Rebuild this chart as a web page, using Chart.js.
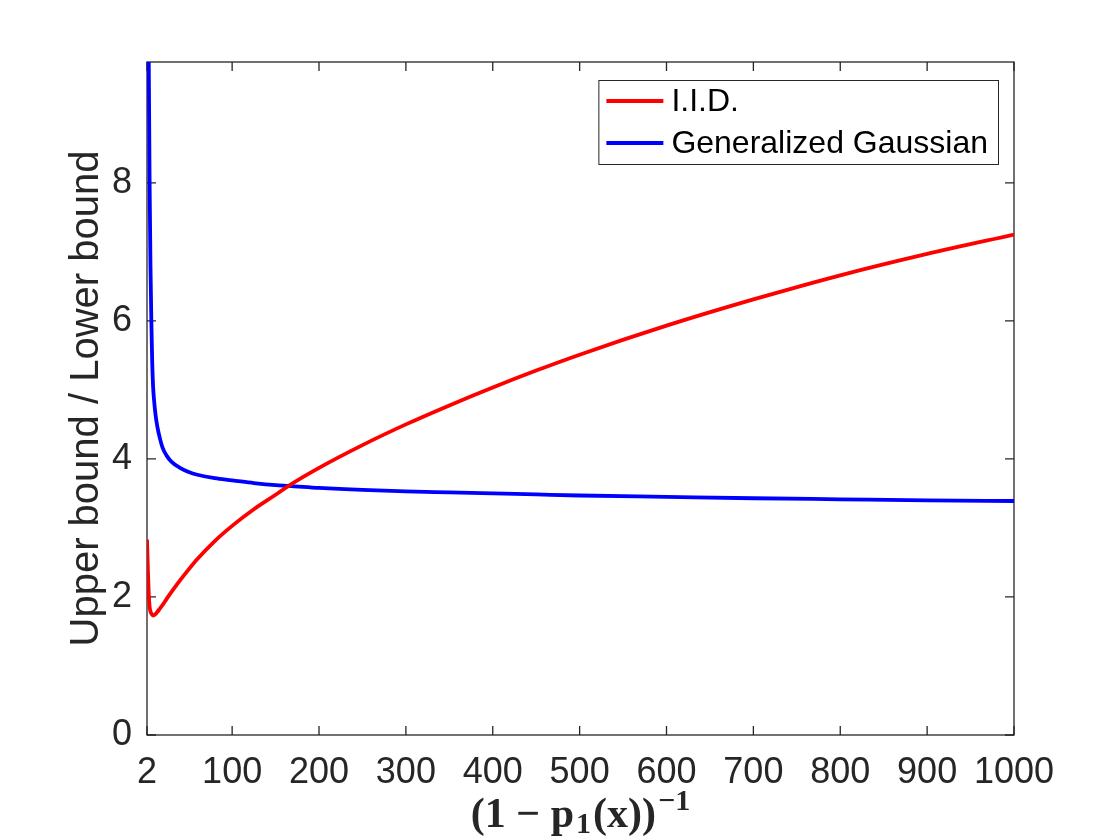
<!DOCTYPE html>
<html>
<head>
<meta charset="utf-8">
<script src="https://cdn.jsdelivr.net/npm/chart.js@4.4.1/dist/chart.umd.min.js"></script>
<style>
    html, body { margin: 0; padding: 0; background: #fff; }
    #wrap { width: 1120px; height: 840px; }
</style>
</head>
<body>
<div id="wrap"><canvas id="boundChart" width="1120" height="840"></canvas></div>
<script>
// x positions shared by both curves
const xValues = [2, 3, 4, 5, 6, 7, 8, 9, 10, 12, 14, 17, 20, 25, 30, 40, 50, 60, 80, 100,
    125, 150, 165, 200, 250, 300, 350, 400, 450, 500, 600, 700, 800, 900, 1000];

// ratio for the I.I.D. case
const iidValues = [2.83, 2.40, 2.05, 1.86, 1.79, 1.76, 1.74, 1.73, 1.735, 1.755, 1.785, 1.835, 1.885, 1.98, 2.07, 2.24, 2.40, 2.55, 2.81, 3.03,
    3.27, 3.48, 3.61, 3.87, 4.20, 4.50, 4.775, 5.035, 5.28, 5.51, 5.93, 6.31, 6.66, 6.97, 7.25];

// ratio for the generalized Gaussian case
const ggValues = [18.0, 12.5, 9.8, 8.0, 6.8, 6.0, 5.4, 5.05, 4.87, 4.62, 4.46, 4.29, 4.16, 4.04, 3.96, 3.87, 3.81, 3.77, 3.72, 3.69,
    3.65, 3.62, 3.61, 3.58, 3.55, 3.53, 3.515, 3.50, 3.485, 3.47, 3.45, 3.43, 3.415, 3.40, 3.39];

const xTickValues = [2, 100, 200, 300, 400, 500, 600, 700, 800, 900, 1000];
const yTickValues = [0, 2, 4, 6, 8];

const axisColor = '#262626';
const mathFont = '"Liberation Serif", "DejaVu Serif", serif';

Chart.defaults.font.family = '"Liberation Sans", Arial, sans-serif';
Chart.defaults.color = axisColor;

// Box around the plot with inward ticks on all four sides
const matlabAxes = {
    id: 'matlabAxes',
    beforeDatasetsDraw(chart) {
        const { ctx, chartArea: a, scales: { x, y } } = chart;
        const len = 9;
        ctx.save();
        ctx.strokeStyle = axisColor;
        ctx.lineWidth = 1.3;
        ctx.strokeRect(a.left, a.top, a.right - a.left, a.bottom - a.top);
        ctx.beginPath();
        x.ticks.forEach(t => {
            const px = x.getPixelForValue(t.value);
            ctx.moveTo(px, a.bottom); ctx.lineTo(px, a.bottom - len);
            ctx.moveTo(px, a.top); ctx.lineTo(px, a.top + len);
        });
        y.ticks.forEach(t => {
            const py = y.getPixelForValue(t.value);
            ctx.moveTo(a.left, py); ctx.lineTo(a.left + len, py);
            ctx.moveTo(a.right, py); ctx.lineTo(a.right - len, py);
        });
        ctx.stroke();
        ctx.restore();
    }
};

// Legend box in the upper right corner of the plot
const boxLegend = {
    id: 'boxLegend',
    afterDraw(chart) {
        const { ctx, chartArea } = chart;
        const sets = chart.data.datasets;
        ctx.save();
        ctx.font = '32px "Liberation Sans", Arial, sans-serif';
        const textW = Math.max(...sets.map(d => ctx.measureText(d.label).width));
        const rowH = 42, lineLen = 57;
        const right = chartArea.right - 16;
        const top = chartArea.top + 18;
        const width = 8 + lineLen + 8 + textW + 10;
        const left = right - width;
        const height = rowH * sets.length;
        ctx.fillStyle = '#fff';
        ctx.fillRect(left, top, width, height);
        ctx.strokeStyle = axisColor;
        ctx.lineWidth = 1;
        ctx.strokeRect(left + 0.5, top + 0.5, width, height);
        sets.forEach((d, i) => {
            const y = top + rowH * (i + 0.5);
            ctx.strokeStyle = d.borderColor;
            ctx.lineWidth = d.borderWidth;
            ctx.beginPath();
            ctx.moveTo(left + 8, y);
            ctx.lineTo(left + 8 + lineLen, y);
            ctx.stroke();
            ctx.fillStyle = '#000';
            ctx.textAlign = 'left';
            ctx.textBaseline = 'middle';
            ctx.fillText(d.label, left + 8 + lineLen + 8, y + 1);
        });
        ctx.restore();
    }
};

// x axis label (1 - p_1(x))^-1 with a real subscript and superscript
const mathTitle = {
    id: 'mathTitle',
    afterDraw(chart) {
        const { ctx, chartArea } = chart;
        const parts = [
            { text: '(1 − p', size: 42, dy: 0 },
            { text: '1', size: 30, dy: 6 },
            { text: '(x))', size: 42, dy: 0 },
            { text: '−1', size: 30, dy: -17 }
        ];
        const gap = 2;
        ctx.save();
        ctx.fillStyle = axisColor;
        ctx.textBaseline = 'alphabetic';
        ctx.textAlign = 'left';
        let total = 0;
        parts.forEach(p => {
            ctx.font = 'bold ' + p.size + 'px ' + mathFont;
            p.w = ctx.measureText(p.text).width;
            total += p.w + gap;
        });
        total -= gap;
        let x = (chartArea.left + chartArea.right) / 2 - total / 2;
        const baseline = 827;
        parts.forEach(p => {
            ctx.font = 'bold ' + p.size + 'px ' + mathFont;
            ctx.fillText(p.text, x, baseline + p.dy);
            x += p.w + gap;
        });
        ctx.restore();
    }
};

function toPoints(values) {
    return xValues.map((x, i) => ({ x: x, y: values[i] }));
}

const ctx = document.getElementById('boundChart').getContext('2d');
new Chart(ctx, {
    type: 'line',
    data: {
        datasets: [{
            label: 'I.I.D.',
            data: toPoints(iidValues),
            borderColor: '#ff0000',
            borderWidth: 3.8,
            pointRadius: 0,
            cubicInterpolationMode: 'monotone',
            fill: false
        }, {
            label: 'Generalized Gaussian',
            data: toPoints(ggValues),
            borderColor: '#0000ff',
            borderWidth: 3.8,
            pointRadius: 0,
            cubicInterpolationMode: 'monotone',
            fill: false
        }]
    },
    options: {
        responsive: false,
        animation: false,
        layout: { padding: { top: 62, right: 106, left: 0, bottom: 0 } },
        plugins: {
            legend: { display: false },
            tooltip: { enabled: false }
        },
        scales: {
            x: {
                type: 'linear',
                min: 2,
                max: 1000,
                afterBuildTicks: scale => { scale.ticks = xTickValues.map(v => ({ value: v })); },
                afterFit: scale => { scale.height = 105; },
                grid: { display: false },
                border: { display: false },
                ticks: {
                    font: { size: 36 },
                    padding: 8,
                    autoSkip: false,
                    maxRotation: 0,
                    callback: value => String(value)
                },
                title: { display: false }
            },
            y: {
                min: 0,
                max: 9.75,
                afterBuildTicks: scale => { scale.ticks = yTickValues.map(v => ({ value: v })); },
                afterFit: scale => { scale.width = 147; },
                grid: { display: false },
                border: { display: false },
                ticks: { font: { size: 36 }, padding: 7 },
                title: {
                    display: true,
                    text: 'Upper bound / Lower bound',
                    font: { size: 40 },
                    padding: { top: 63, bottom: 0 }
                }
            }
        }
    },
    plugins: [matlabAxes, boxLegend, mathTitle]
});
</script>
</body>
</html>
